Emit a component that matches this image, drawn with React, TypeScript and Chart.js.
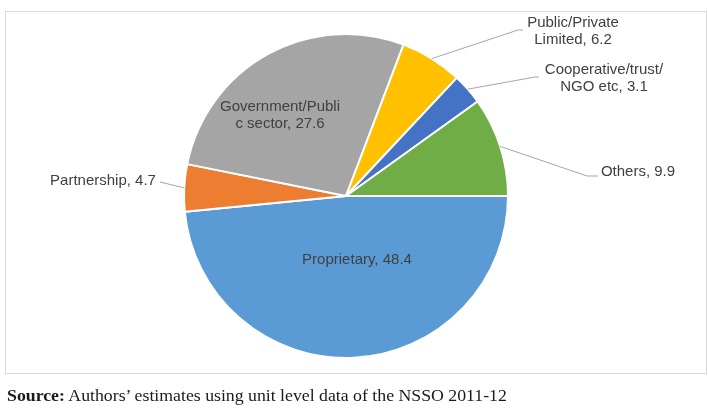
import React, { useEffect, useRef } from "react";
import { Chart, registerables } from "chart.js";

Chart.register(...registerables);

const categories = [
  "Proprietary",
  "Partnership",
  "Government/Public sector",
  "Public/Private Limited",
  "Cooperative/trust/NGO etc",
  "Others",
];
const shares = [48.4, 4.7, 27.6, 6.2, 3.1, 9.9];
const sliceColors = ["#5B9BD5", "#ED7D31", "#A5A5A5", "#FFC000", "#4472C4", "#70AD47"];

// label layout (positions only)
const labelLayout: any[] = [
  { inside: true, x: 357, y: 260, brk: 0 },
  { x: 103, y: 181, brk: 0, leader: [[160, 182]] },
  { inside: true, x: 280, y: 115, brk: 16 },
  { x: 573, y: 31, brk: 14, leader: [[518, 30], [523, 30]] },
  { x: 604, y: 78, brk: 18, leader: [[535, 77], [539, 77]] },
  { x: 638, y: 172, brk: 0, leader: [[587, 176], [598, 176]] },
];

const labelPlugin = {
  id: "labelPlugin",
  afterDatasetsDraw(chart: any) {
    const ctx = chart.ctx;
    const meta = chart.getDatasetMeta(0);
    ctx.save();
    meta.data.forEach((arc: any, i: number) => {
      const lay = labelLayout[i];
      const full = `${categories[i]}, ${shares[i]}`;
      const lines = lay.brk ? [full.slice(0, lay.brk), full.slice(lay.brk).trim()] : [full];
      if (lay.leader) {
        const mid = (arc.startAngle + arc.endAngle) / 2;
        const sx = arc.x + Math.cos(mid) * arc.outerRadius;
        const sy = arc.y + Math.sin(mid) * arc.outerRadius;
        ctx.strokeStyle = "#A6A6A6";
        ctx.lineWidth = 1;
        ctx.beginPath();
        ctx.moveTo(sx, sy);
        lay.leader.forEach((p: number[]) => ctx.lineTo(p[0], p[1]));
        ctx.stroke();
      }
      ctx.fillStyle = "#404040";
      ctx.font = "15px 'Liberation Sans', Arial, sans-serif";
      ctx.textAlign = "center";
      ctx.textBaseline = "middle";
      const lh = 17;
      const y0 = lay.y - ((lines.length - 1) * lh) / 2;
      lines.forEach((t: string, k: number) => ctx.fillText(t, lay.x, y0 + k * lh));
    });
    ctx.restore();
  },
};

export default function App() {
  const ref = useRef<HTMLCanvasElement>(null);
  useEffect(() => {
    if (!ref.current) return;
    const chart = new Chart(ref.current, {
      type: "pie",
      data: {
        labels: categories,
        datasets: [
          {
            data: shares,
            backgroundColor: sliceColors,
            borderColor: "#ffffff",
            borderWidth: 2,
          },
        ],
      },
      options: {
        responsive: false,
        animation: false,
        rotation: 90,
        layout: { padding: { top: 33, bottom: 52, left: 183, right: 199 } },
        plugins: {
          legend: { display: false },
          tooltip: { enabled: false },
          title: { display: false },
        },
      },
      plugins: [labelPlugin],
    });
    return () => chart.destroy();
  }, []);

  return (
    <div style={{ position: "absolute", left: 0, top: 0, width: 708, height: 411, background: "#fff", overflow: "hidden" }}>
      <div
        style={{
          position: "absolute",
          left: 5,
          top: 11,
          width: 700,
          height: 361,
          border: "1px solid #D9D9D9",
        }}
      />
      <canvas ref={ref} width={708} height={411} style={{ position: "absolute", left: 0, top: 0 }} />
      <div
        style={{
          position: "absolute",
          left: 7,
          top: 387,
          fontFamily: "'Liberation Serif', 'DejaVu Serif', serif",
          fontSize: 16,
          lineHeight: "18px",
          color: "#1a1a1a",
          whiteSpace: "nowrap",
          transform: "scaleX(1.11)",
          transformOrigin: "left top",
        }}
      >
        <b>Source:</b> Authors’ estimates using unit level data of the NSSO 2011-12
      </div>
    </div>
  );
}
